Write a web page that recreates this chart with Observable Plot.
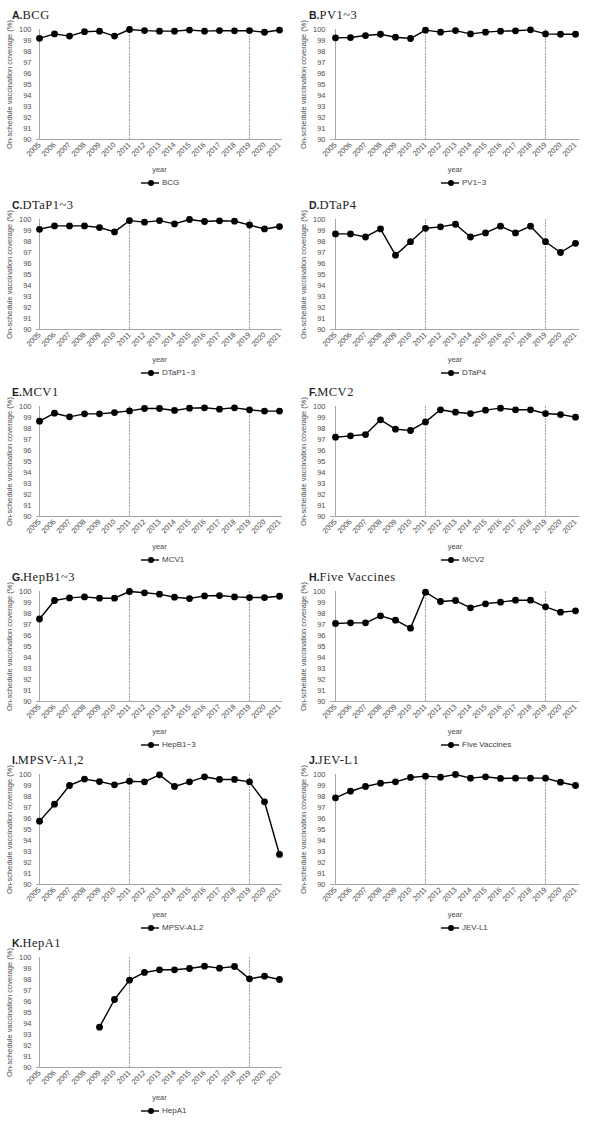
<!DOCTYPE html>
<html><head><meta charset="utf-8">
<script src="https://cdn.jsdelivr.net/npm/d3@7"></script>
<script src="https://cdn.jsdelivr.net/npm/@observablehq/plot@0.6"></script>
<style>
body{margin:0;background:#fff;}
#root{position:relative;width:600px;height:1122px;overflow:hidden;font-family:"Liberation Sans",Arial,sans-serif;}
#root svg{overflow:visible;position:absolute;}
.title{position:absolute;white-space:nowrap;font-size:12.5px;line-height:14px;color:#222;}
.title b{font-family:"Liberation Sans",Arial,sans-serif;font-size:10.5px;font-weight:bold;}
.title span{font-family:"Liberation Serif",serif;letter-spacing:0.5px;}
.legend{position:absolute;display:flex;align-items:center;font-size:8px;line-height:10px;color:#404040;white-space:nowrap;}
.legend svg{position:static !important;}
</style></head><body><div id="root"></div>
<script>
// ---- data ----
const years = [2005,2006,2007,2008,2009,2010,2011,2012,2013,2014,2015,2016,2017,2018,2019,2020,2021];
const yTicks = [90,91,92,93,94,95,96,97,98,99,100];
const refYears = [2011, 2019];

const bcg      = [99.2,99.6,99.4,99.8,99.85,99.4,100,99.9,99.85,99.85,99.95,99.85,99.9,99.88,99.9,99.75,99.95];
const pv13     = [99.24,99.27,99.45,99.57,99.3,99.18,99.94,99.76,99.9,99.6,99.76,99.85,99.88,99.97,99.6,99.57,99.57];
const dtap13   = [99.11,99.42,99.42,99.42,99.27,98.87,99.9,99.76,99.9,99.6,100,99.82,99.88,99.85,99.5,99.14,99.36];
const dtap4    = [98.69,98.69,98.41,99.14,96.76,97.98,99.2,99.33,99.57,98.41,98.78,99.39,98.78,99.39,97.98,97.0,97.83];
const mcv1     = [98.67,99.39,99.06,99.33,99.33,99.45,99.6,99.82,99.82,99.64,99.85,99.88,99.76,99.88,99.7,99.58,99.58];
const mcv2     = [97.21,97.33,97.45,98.79,97.94,97.82,98.6,99.7,99.48,99.36,99.67,99.85,99.7,99.7,99.36,99.27,99.03];
const hepb13   = [97.5,99.18,99.42,99.51,99.39,99.39,100,99.88,99.76,99.48,99.36,99.6,99.63,99.51,99.45,99.45,99.57];
const fiveVacc = [97.09,97.15,97.15,97.79,97.39,96.67,99.94,99.09,99.18,98.52,98.88,99.03,99.21,99.21,98.61,98.12,98.24];
const mpsvA12  = [95.76,97.3,99.0,99.58,99.36,99.06,99.39,99.33,99.97,98.91,99.33,99.79,99.55,99.55,99.33,97.52,92.73];
const jevL1    = [97.88,98.48,98.91,99.21,99.33,99.73,99.85,99.76,100,99.67,99.79,99.64,99.67,99.67,99.67,99.3,99.0];
const hepA1    = [null,null,null,null,93.67,96.18,97.94,98.64,98.88,98.88,99.0,99.21,99.03,99.18,98.06,98.3,98.0];

const letters = ["A","B","C","D","E","F","G","H","I","J","K"];
const titles  = ["BCG","PV1~3","DTaP1~3","DTaP4","MCV1","MCV2","HepB1~3","Five Vaccines","MPSV-A1,2","JEV-L1","HepA1"];
const legends = ["BCG","PV1~3","DTaP1~3","DTaP4","MCV1","MCV2","HepB1~3","Five Vaccines","MPSV-A1,2","JEV-L1","HepA1"];
const series  = [bcg,pv13,dtap13,dtap4,mcv1,mcv2,hepb13,fiveVacc,mpsvA12,jevL1,hepA1];

// ---- layout ----
const rowTops = [29,219,406,591,774,957];
const cols = [{x:0, ml:36, mr:18, tx:12}, {x:300, ml:30, mr:21, tx:9}];
const plotH = 110, mTop = 6, mBot = 50;
const root = document.getElementById("root");

series.forEach((vals, i) => {
  const row = Math.floor(i/2), c = cols[i%2];
  const top = rowTops[row];
  const data = years.map((yr, k) => ({year: yr, value: vals[k]}));

  const t = document.createElement("div");
  t.className = "title";
  t.style.left = (c.x + c.tx) + "px";
  t.style.top = (top - 21) + "px";
  t.innerHTML = `<b>${letters[i]}.</b><span></span>`;
  t.querySelector("span").textContent = titles[i];
  root.appendChild(t);

  const svg = Plot.plot({
    width: 300, height: mTop + plotH + mBot,
    marginTop: mTop, marginBottom: mBot, marginLeft: c.ml, marginRight: c.mr,
    style: {fontFamily: "'Liberation Sans', Arial, sans-serif", fontSize: "7.5px", color: "#4d4d4d", background: "transparent", overflow: "visible"},
    x: {type: "point", domain: years, padding: 0},
    y: {domain: [90, 100]},
    marks: [
      Plot.ruleX(refYears, {y1: 90, y2: 100, stroke: "#9a9a9a", strokeWidth: 0.9, strokeDasharray: "2,1"}),
      Plot.ruleY([90], {stroke: "#a6a6a6", strokeWidth: 1}),
      Plot.ruleX([years[0]], {y1: 90, y2: 100, stroke: "#a6a6a6", strokeWidth: 1}),
      Plot.axisY({ticks: yTicks, tickSize: 0, tickPadding: 5, label: "On-schedule vaccination coverage (%)", labelAnchor: "center", labelOffset: 30, labelArrow: "none"}),
      Plot.axisX({tickSize: 0, tickPadding: 4, tickRotate: -45, tickFormat: d => String(d), label: "year", labelAnchor: "center", labelOffset: 32, labelArrow: "none"}),
      Plot.line(data, {x: "year", y: "value", stroke: "#000", strokeWidth: 1.4, defined: d => d.value != null}),
      Plot.dot(data.filter(d => d.value != null), {x: "year", y: "value", r: 3.4, fill: "#000", stroke: "none"})
    ]
  });
  svg.style.left = c.x + "px";
  svg.style.top = (top - mTop) + "px";
  root.appendChild(svg);

  const lg = document.createElement("div");
  lg.className = "legend";
  lg.style.left = (c.x + 141) + "px";
  lg.style.top = (top + plotH + 39) + "px";
  lg.innerHTML = `<svg width="18" height="8"><line x1="0" y1="4" x2="18" y2="4" stroke="#000" stroke-width="1.4"/><circle cx="10" cy="4" r="3" fill="#000"/></svg><span style="margin-left:3px"></span>`;
  lg.querySelector("span").textContent = legends[i];
  root.appendChild(lg);
});
</script>
</body></html>
